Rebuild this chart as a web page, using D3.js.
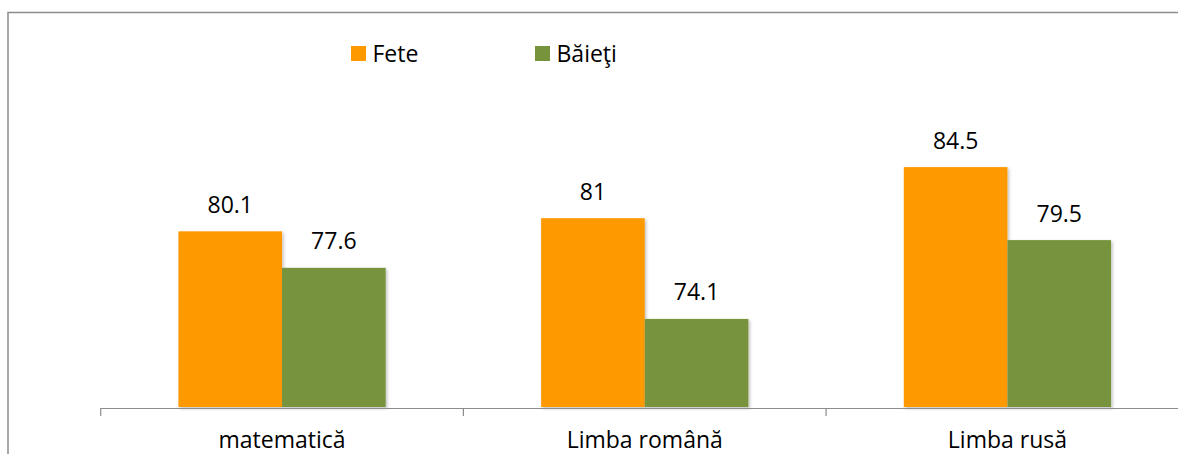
<!DOCTYPE html>
<html>
<head>
<meta charset="utf-8">
<script src="https://cdn.jsdelivr.net/npm/d3@7"></script>
<style>
  html, body { margin: 0; padding: 0; background: #fff; }
  svg { display: block; }
  text { font-family: "Open Sans", sans-serif; fill: #000; }
</style>
</head>
<body>
<svg id="chart" width="1178" height="454"></svg>
<script>
const categories = ["matematică", "Limba română", "Limba rusă"];
const seriesNames = ["Fete", "Băieţi"];
const fete = [80.1, 81, 84.5];
const baieti = [77.6, 74.1, 79.5];
const colors = ["#FF9900", "#77933C"];

const W = 1178, H = 454;
const svg = d3.select("#chart");

// shadow filter
const defs = svg.append("defs");
const f = defs.append("filter").attr("id", "sh").attr("x", "-10%").attr("y", "-10%").attr("width", "130%").attr("height", "130%");
f.append("feDropShadow").attr("dx", 1.5).attr("dy", 1.5).attr("stdDeviation", 1.5)
  .attr("flood-color", "#000").attr("flood-opacity", 0.25);

// outer frame
svg.append("rect").attr("x", 8).attr("y", 12.5).attr("width", 1300).attr("height", 600)
  .attr("fill", "none").attr("stroke", "#8c8c8c").attr("stroke-width", 1.5);

const left = 100.7, bandW = 362.7;
const x0 = d3.scaleBand().domain(categories).range([left, left + bandW * 3]).paddingInner(0).paddingOuter(0);
const x1 = d3.scaleBand().domain(seriesNames).range([0, x0.bandwidth()]).paddingInner(0).paddingOuter(0.75 / 2 / 1);
// adjust: gap = 75% of bar width on each side -> outer padding
x1.paddingOuter(0.375 * 2);

const y = d3.scaleLinear().domain([68, 88]).range([408, 116]);

const data = categories.map((c, i) => ({ cat: c, vals: [ {s: seriesNames[0], v: fete[i]}, {s: seriesNames[1], v: baieti[i]} ] }));

const g = svg.append("g");
const groups = g.selectAll("g.cat").data(data).join("g").attr("class", "cat")
  .attr("transform", d => `translate(${x0(d.cat)},0)`);

groups.selectAll("rect").data(d => d.vals).join("rect")
  .attr("x", d => x1(d.s))
  .attr("y", d => y(d.v))
  .attr("width", x1.bandwidth())
  .attr("height", d => y(68) - y(d.v) - 1)
  .attr("fill", (d, i) => colors[i])
  .attr("filter", "url(#sh)");

groups.selectAll("text.val").data(d => d.vals).join("text").attr("class", "val")
  .attr("x", d => x1(d.s) + x1.bandwidth() / 2)
  .attr("y", d => y(d.v) - 18.5)
  .attr("text-anchor", "middle")
  .attr("font-size", 23)
  .text(d => d.v);

// x axis
const axis = d3.axisBottom(x0).tickSize(0).tickFormat(d => d);
const ax = svg.append("g").attr("transform", "translate(0,408)").call(axis);
ax.select(".domain").remove();
ax.selectAll("text").attr("font-size", 23).attr("dy", null).attr("y", 40);
ax.append("line").attr("x1", left).attr("x2", W).attr("y1", 0.5).attr("y2", 0.5)
  .attr("stroke", "#8c8c8c").attr("stroke-width", 1.2);
const tickPos = [0, 1, 2, 3].map(i => left + i * x0.step());
ax.selectAll("line.tk").data(tickPos).join("line").attr("class", "tk")
  .attr("x1", d => d).attr("x2", d => d).attr("y1", 0).attr("y2", 8)
  .attr("stroke", "#8c8c8c").attr("stroke-width", 1.2);

// legend
const legX = [351, 535];
const leg = svg.append("g");
seriesNames.forEach((s, i) => {
  leg.append("rect").attr("x", legX[i]).attr("y", 46).attr("width", 15).attr("height", 15).attr("fill", colors[i]);
  leg.append("text").attr("x", legX[i] + 21.5).attr("y", 62).attr("font-size", 23).text(s);
});
</script>
</body>
</html>
